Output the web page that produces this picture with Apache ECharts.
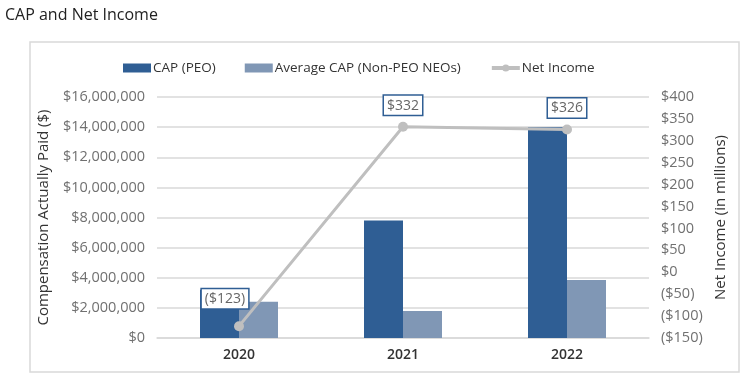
<!DOCTYPE html>
<html>
<head>
<meta charset="utf-8">
<script src="https://cdn.jsdelivr.net/npm/echarts@6/dist/echarts.min.js"></script>
<style>
  html, body { margin: 0; padding: 0; background: #fff; }
  #chart { width: 750px; height: 377px; }
</style>
</head>
<body>
<div id="chart"></div>
<script>
var years = ['2020', '2021', '2022'];
var capPeo = [3200000, 7800000, 14000000];
var capNonPeo = [2400000, 1800000, 3850000];
var netIncome = [-123, 332, 326];

function money(v) {
  var s = '$' + Math.abs(v).toLocaleString('en-US');
  return v < 0 ? '(' + s + ')' : s;
}

var myChart = echarts.init(document.getElementById('chart'));
var font = '"Open Sans", Lato, sans-serif';

myChart.setOption({
  animation: false,
  textStyle: { fontFamily: font },
  title: {
    text: 'CAP and Net Income',
    left: 0,
    top: 2,
    textStyle: { fontSize: 16, fontWeight: 'normal', color: '#222', fontFamily: font }
  },
  graphic: [{
    type: 'rect',
    shape: { x: 30, y: 42, width: 709, height: 330 },
    style: { fill: 'none', stroke: '#d9d9d9', lineWidth: 1.5 },
    silent: true
  }],
  legend: {
    top: 61,
    left: 123,
    padding: 0,
    itemGap: 29,
    itemWidth: 28,
    itemHeight: 9,
    textStyle: { fontSize: 13.5, color: '#333', fontFamily: font, padding: [0, 0, 0, -3] },
    data: [
      { name: 'CAP (PEO)', icon: 'rect' },
      { name: 'Average CAP (Non-PEO NEOs)', icon: 'rect' },
      { name: 'Net Income', itemStyle: { color: '#bfbfbf' }, lineStyle: { width: 4 } }
    ]
  },
  grid: { left: 157, right: 101, top: 97, bottom: 39 },
  xAxis: {
    type: 'category',
    data: years,
    axisLine: { show: true, lineStyle: { color: '#d9d9d9', width: 1.5 } },
    axisTick: { show: false },
    axisLabel: { color: '#333', fontWeight: 600, fontSize: 14, margin: 10 }
  },
  yAxis: [
    {
      type: 'value',
      min: 0,
      max: 16000000,
      interval: 2000000,
      name: 'Compensation Actually Paid ($)',
      nameLocation: 'middle',
      nameGap: 106,
      nameTextStyle: { fontSize: 15, color: '#333' },
      axisLine: { show: false },
      axisTick: { show: false },
      splitLine: { lineStyle: { color: '#d9d9d9', width: 1.5 } },
      axisLabel: { color: '#707070', fontSize: 14.5, margin: 12, formatter: money }
    },
    {
      type: 'value',
      min: -150,
      max: 400,
      interval: 50,
      name: 'Net Income (in millions)',
      nameLocation: 'middle',
      nameGap: 61,
      nameRotate: 90,
      nameTextStyle: { fontSize: 15, color: '#333' },
      axisLine: { show: false },
      axisTick: { show: false },
      splitLine: { show: false },
      axisLabel: { color: '#707070', fontSize: 14.5, margin: 12, formatter: money }
    }
  ],
  series: [
    {
      name: 'CAP (PEO)',
      type: 'bar',
      data: capPeo,
      barWidth: 39,
      barGap: '0%',
      itemStyle: { color: '#2f5e94' }
    },
    {
      name: 'Average CAP (Non-PEO NEOs)',
      type: 'bar',
      data: capNonPeo,
      barWidth: 39,
      barGap: '0%',
      itemStyle: { color: '#8097b5' }
    },
    {
      name: 'Net Income',
      type: 'line',
      yAxisIndex: 1,
      data: netIncome,
      symbol: 'circle',
      symbolSize: 10,
      itemStyle: { color: '#bfbfbf' },
      lineStyle: { color: '#bfbfbf', width: 3 },
      z: 5,
      label: {
        show: true,
        position: 'top',
        distance: 7,
        formatter: function (p) { return money(p.value); },
        color: '#666',
        fontSize: 14,
        backgroundColor: '#fff',
        borderColor: '#2f5e94',
        borderWidth: 1.5,
        padding: [3, 3, 2, 3]
      },
      labelLayout: function (p) {
        if (p.dataIndex === 0) {
          return { dx: -14, dy: -6 };
        }
        return {};
      }
    }
  ]
});
</script>
</body>
</html>
